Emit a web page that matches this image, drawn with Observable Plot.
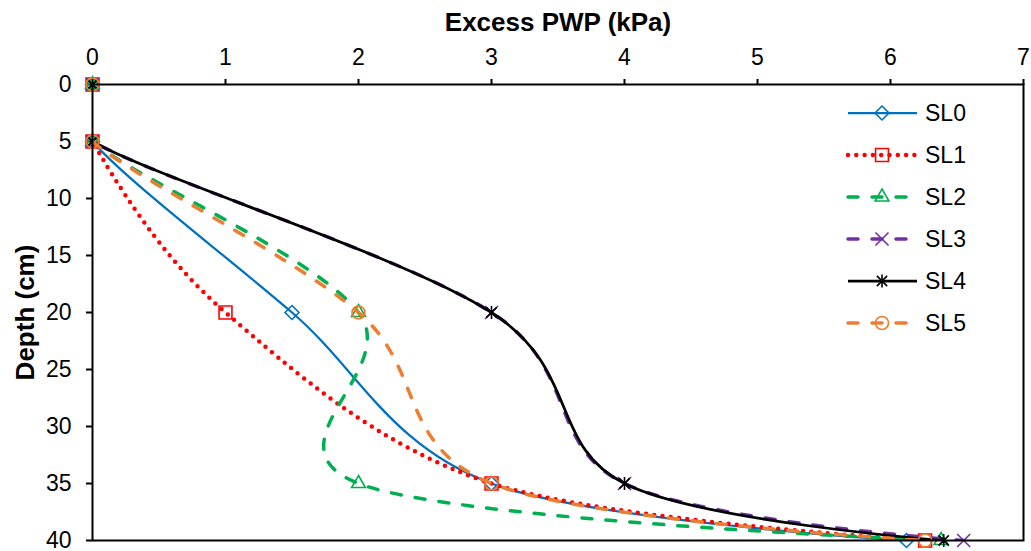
<!DOCTYPE html>
<html>
<head>
<meta charset="utf-8">
<script src="https://cdn.jsdelivr.net/npm/d3@7"></script>
<script src="https://cdn.jsdelivr.net/npm/@observablehq/plot@0.6"></script>
<style>
  html, body { margin: 0; padding: 0; background: #fff; }
  #chart { position: relative; width: 1031px; height: 551px; }
</style>
</head>
<body>
<div id="chart"></div>
<script>
// ---- Data ----
const depth = [0, 5, 20, 35, 40];
const seriesNames = ["SL0", "SL1", "SL2", "SL3", "SL4", "SL5"];
const sl0 = [0, 0, 1.5, 3, 6.12];
const sl1 = [0, 0, 1, 3, 6.26];
const sl2 = [0, 0, 2, 2, 6.38];
const sl3 = [0, 0, 3, 4, 6.55];
const sl4 = [0, 0, 3, 4, 6.40];
const sl5 = [0, 0, 2, 3, 6.26];
const seriesValues = [sl0, sl1, sl2, sl3, sl4, sl5];
const xTicks = [0, 1, 2, 3, 4, 5, 6, 7];
const yTicks = [0, 5, 10, 15, 20, 25, 30, 35, 40];
const xTitle = "Excess PWP (kPa)";
const yTitle = "Depth (cm)";

// ---- Styles ----
const excelStar = {
  draw(ctx, size) {
    const r = Math.sqrt(size) * 0.6;
    const d = r * 0.78;
    ctx.moveTo(0, -r); ctx.lineTo(0, r);
    ctx.moveTo(-d, -d); ctx.lineTo(d, d);
    ctx.moveTo(-d, d); ctx.lineTo(d, -d);
  }
};
const styles = [
  {color: "#0070C0", width: 2.25, dash: null, cap: "butt", symbol: "diamond2", r: 6.3},
  {color: "#FF0000", width: 4.5, dash: "0,8.3", cap: "round", symbol: "square2", r: 8.2},
  {color: "#00B050", width: 3.5, dash: "10,14", cap: "round", symbol: "triangle2", r: 6.6},
  {color: "#7030A0", width: 3.5, dash: "10,14", cap: "round", symbol: "times", r: 6.0},
  {color: "#000000", width: 2.75, dash: null, cap: "butt", symbol: excelStar, r: 6.2},
  {color: "#ED7D31", width: 3.5, dash: "10,14", cap: "round", symbol: "circle", r: 6.5}
];

const rows = seriesNames.map((name, i) =>
  depth.map((d, j) => ({series: name, x: seriesValues[i][j], depth: d}))
);

const seriesMarks = rows.flatMap((data, i) => {
  const s = styles[i];
  return [
    Plot.line(data, {
      x: "x", y: "depth", curve: "cardinal", clip: "frame",
      stroke: s.color, strokeWidth: s.width,
      strokeDasharray: s.dash, strokeLinecap: s.cap, strokeLinejoin: "round"
    }),
    Plot.dot(data, {
      x: "x", y: "depth", symbol: s.symbol, r: s.r,
      stroke: s.color, strokeWidth: 1.6, fill: "none"
    })
  ];
});

const chart = Plot.plot({
  width: 1031,
  height: 551,
  marginLeft: 92,
  marginTop: 84,
  marginRight: 8,
  marginBottom: 11,
  style: {fontFamily: "'Liberation Sans', Arial, sans-serif", fontSize: "23px", color: "#000", background: "#fff"},
  x: {domain: [0, 7]},
  y: {domain: [0, 40], reverse: true},
  marks: [
    Plot.axisX(xTicks, {anchor: "top", tickSize: 6, tickPadding: 14, label: null, strokeWidth: 2, fontSize: 23, tickFormat: d => String(d)}),
    Plot.axisY(yTicks, {anchor: "left", tickSize: 6, tickPadding: 15, label: null, strokeWidth: 2, fontSize: 23, tickFormat: d => String(d)}),
    ...seriesMarks,
    Plot.frame({stroke: "#000", strokeWidth: 2}),
    Plot.text([xTitle], {frameAnchor: "top", dy: -62, text: d => d, fontSize: 26, fontWeight: "bold", textAnchor: "middle", lineAnchor: "middle"}),
    Plot.text([yTitle], {frameAnchor: "left", dx: -67, rotate: -90, text: d => d, fontSize: 26, fontWeight: "bold", textAnchor: "middle", lineAnchor: "middle"})
  ]
});
document.getElementById("chart").appendChild(chart);

// ---- Legend (inside the plot, top right) ----
const svg = d3.select(chart);
const lg = svg.append("g").attr("class", "legend").attr("text-anchor", "start");
const symbolMap = {
  diamond2: d3.symbolDiamond2, square2: d3.symbolSquare2, triangle2: d3.symbolTriangle2,
  times: d3.symbolTimes, circle: d3.symbolCircle
};
seriesNames.forEach((name, i) => {
  const s = styles[i];
  const cy = 113 + i * 42;
  const g = lg.append("g").attr("transform", `translate(0,${cy})`);
  g.append("line")
    .attr("x1", 848).attr("x2", 917).attr("y1", 0).attr("y2", 0)
    .attr("stroke", s.color).attr("stroke-width", s.width)
    .attr("stroke-dasharray", s.dash).attr("stroke-linecap", s.cap);
  const sym = typeof s.symbol === "string" ? symbolMap[s.symbol] : s.symbol;
  g.append("path")
    .attr("transform", "translate(882,0)")
    .attr("d", d3.symbol(sym, Math.PI * s.r * s.r)())
    .attr("fill", "none").attr("stroke", s.color).attr("stroke-width", 1.6);
  g.append("text")
    .attr("x", 925).attr("y", 0).attr("dy", "0.35em")
    .attr("font-size", 23).attr("fill", "#000").attr("text-anchor", "start")
    .text(name);
});
</script>
</body>
</html>
